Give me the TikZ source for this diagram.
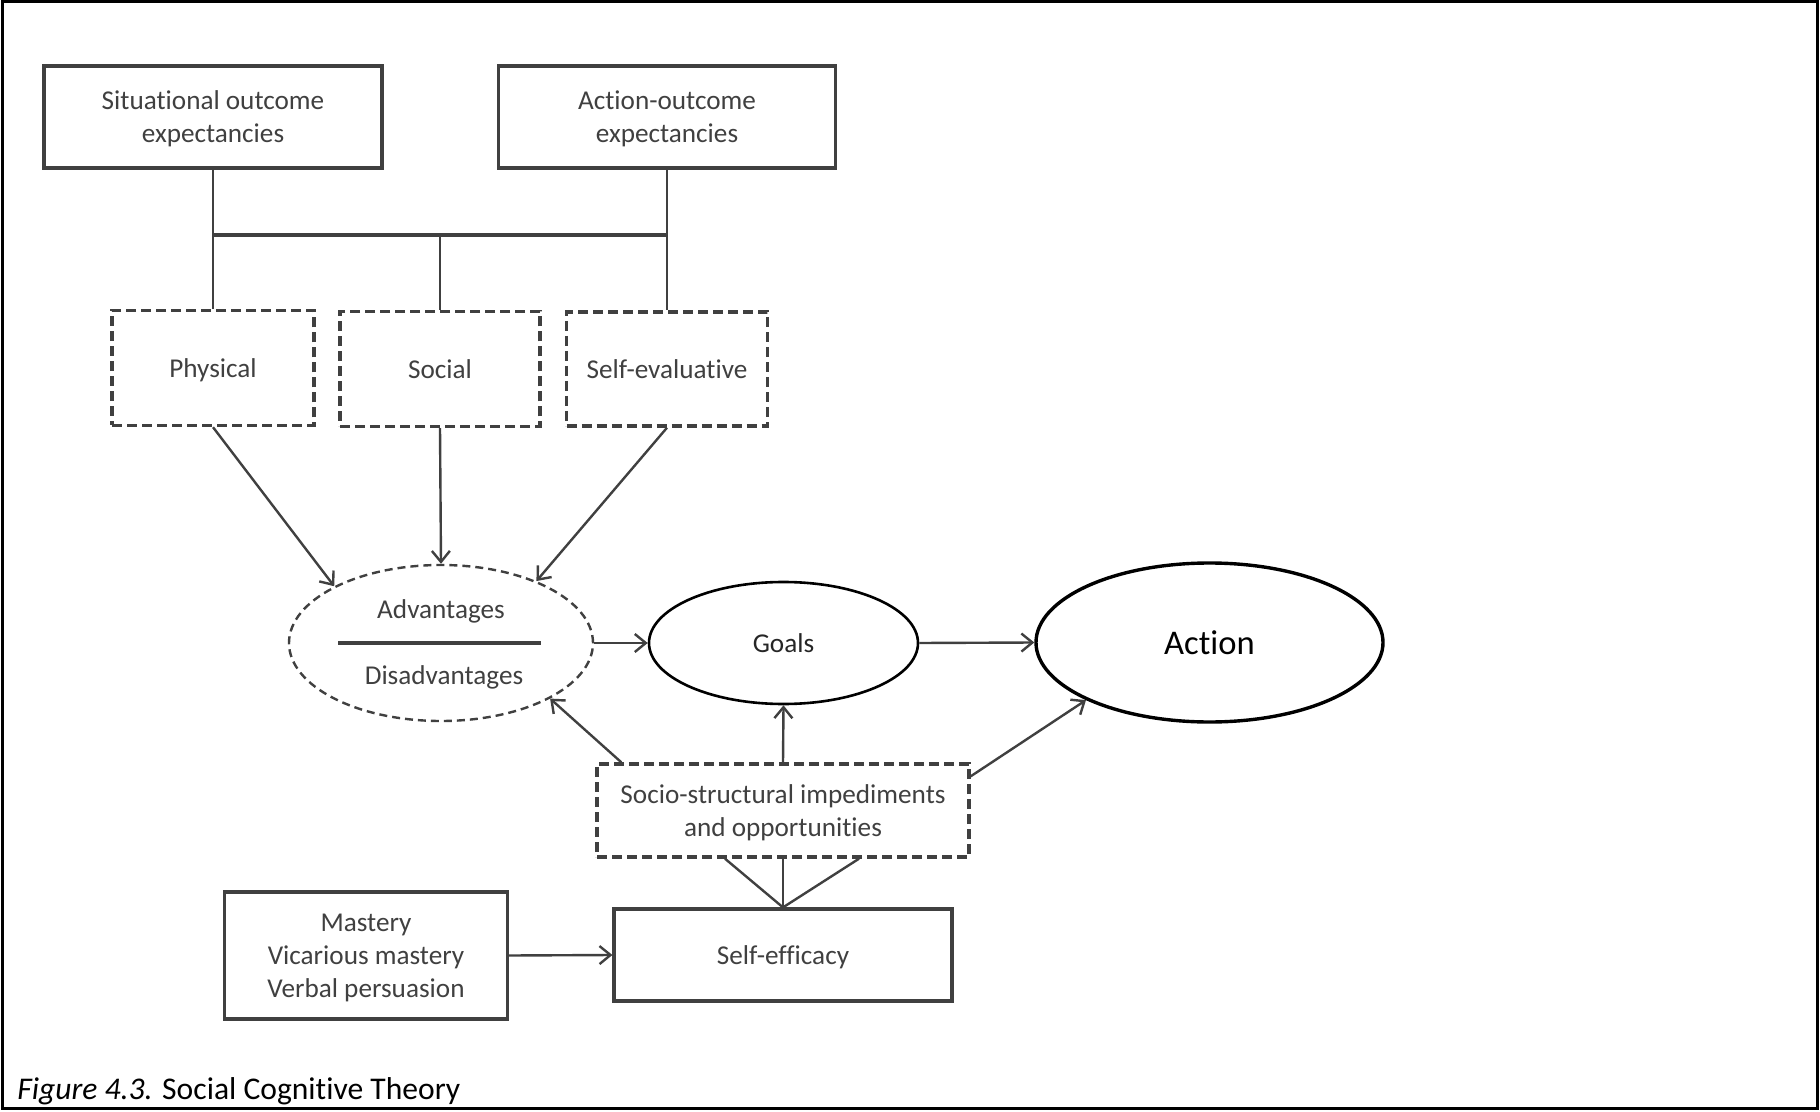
\documentclass[tikz,border=0pt]{standalone}
\usepackage{fontspec}
\setmainfont{Carlito}[Ligatures=NoCommon]
\usetikzlibrary{arrows.meta,shapes.geometric,calc}
\definecolor{ink}{HTML}{404040}
\begin{document}
\begin{tikzpicture}[x=0.5pt,y=-0.5pt,
  lbl/.style={font=\fontsize{13.6}{16.5}\selectfont, text=ink, align=center},
  solidbox/.style={lbl, draw=ink, line width=1.6pt, rectangle, inner sep=0pt, text depth=0pt},
  dashbox/.style={solidbox, line width=1.7pt, dash pattern=on 5pt off 2.5pt},
  conn/.style={draw=ink, line width=1.2pt},
  arr/.style={conn, -{Straight Barb[length=5.5pt,width=9pt,line width=1.2pt]}},
]
\useasboundingbox (0,0) rectangle (1820,1112);
\draw[line width=1.5pt] (2,2) rectangle (1817,1108);

% expectancy boxes
\node[solidbox, minimum width=169pt, minimum height=51pt] (sit) at (213,117) {Situational outcome\\expectancies};
\node[solidbox, minimum width=168.5pt, minimum height=51pt] (ao) at (667,117) {Action-outcome\\expectancies};

% outcome kinds
\node[dashbox, minimum width=101pt, minimum height=57.5pt] (phys) at (213,368) {Physical};
\node[dashbox, minimum width=100pt, minimum height=57.5pt] (soc) at (440,369) {Social};
\node[dashbox, minimum width=100.5pt, minimum height=57pt] (selfev) at (667,369) {Self-evaluative};

% bracket joining expectancies to the outcome kinds
\coordinate (jl) at (213,235);
\coordinate (jm) at (440,235);
\coordinate (jr) at (667,235);
\draw[conn] (sit.south) -- (jl) -- (phys.north);
\draw[conn] (ao.south) -- (jr) -- (selfev.north);
\draw[conn] (jm) -- (soc.north);
\draw[conn, line width=1.7pt] (jl) -- (jr);

% advantages / disadvantages
\node[ellipse, draw=ink, dash pattern=on 4pt off 2.5pt, line width=1.2pt,
      minimum width=152pt, minimum height=78pt, inner sep=0pt] (adv) at (441,643) {};
\node[lbl] (advtxt) at ($(adv.center)+(0,-32)$) {Advantages};
\node[lbl] (distxt) at ($(adv.center)+(3,34)$) {Disadvantages};
\draw[conn, line width=1.7pt] ($(adv.center)+(-103,0)$) -- ($(adv.center)+(100,0)$);

% goals and action
\node[ellipse, draw=black, line width=1.3pt, minimum width=134.5pt, minimum height=61pt,
      inner sep=0pt, font=\fontsize{13.6}{16.5}\selectfont, text=black!85] (goals) at (783.5,643) {Goals};
\node[ellipse, draw=black, line width=1.7pt, minimum width=173.5pt, minimum height=79.5pt,
      inner sep=0pt, font=\fontsize{17.3}{20}\selectfont] (act) at (1209.5,642.5) {Action};

% socio-structural factors, self-efficacy and its sources
\node[dashbox, minimum width=186pt, minimum height=46.5pt] (socio) at (783,810.5) {Socio-structural impediments\\and opportunities};
\node[solidbox, minimum width=169pt, minimum height=46pt] (se) at (783,955) {Self-efficacy};
\node[solidbox, minimum width=141.5pt, minimum height=63.5pt] (mast) at (366,955.5) {Mastery\\Vicarious mastery\\Verbal persuasion};

% arrows
\draw[arr] (phys.south) -- (adv.152);
\draw[arr] (soc.south) -- (adv.north);
\draw[arr] (selfev.south) -- (adv.33);
\draw[arr] (adv.east) -- (goals.west);
\draw[arr] (goals.east) -- (act.west);
\draw[arr] (socio.north) -- (goals.south);
\draw[arr] ($(socio.north west)+(26,0)$) -- (adv.-27);
\draw[arr] ($(socio.north east)+(0,14)$) -- (act.205);
\draw[arr] (mast.east) -- (se.west);

% fan from self-efficacy to socio-structural factors
\draw[conn] (se.north) -- ($(socio.south)+(-58,0)$);
\draw[conn] (se.north) -- (socio.south);
\draw[conn] (se.north) -- ($(socio.south)+(76,0)$);

% caption
\node[anchor=base west, font=\fontsize{15.8}{18}\selectfont, inner sep=0pt] (cap) at (17,1099)
  {\textit{Figure 4.3.} Social Cognitive Theory};
\end{tikzpicture}
\end{document}
